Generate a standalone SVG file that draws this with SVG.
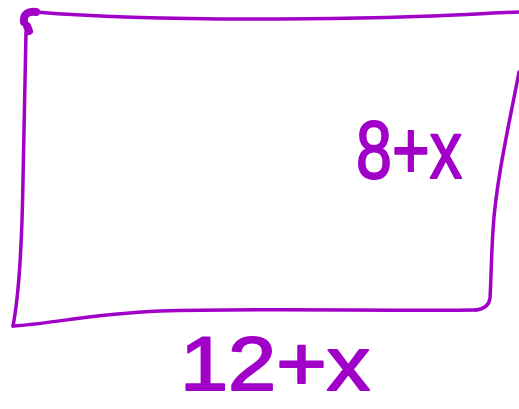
<svg xmlns="http://www.w3.org/2000/svg" width="519" height="409" viewBox="0 0 519 409">
<style>
.edge{fill:none;stroke:#a000c8;stroke-linecap:round;stroke-linejoin:round}
.lbl{font-family:"Liberation Sans",Arial,sans-serif;fill:#a000c8;stroke:#a000c8;stroke-width:2;stroke-linejoin:round}
</style>
<rect width="519" height="409" fill="#fff"/>
<g id="connectors">
<path class="edge" stroke-width="3.5" d="M36,12 C120,19 250,20 360,18 C430,17 490,13 519,12"/>
<path class="edge" stroke-width="3.5" d="M519,72 C510,120 496,180 493,230 C491,262 491,285 490,298 C489,306 484,309 476,310"/>
<path class="edge" stroke-width="3.5" d="M476,310 C380,311 250,308 160,311 C90,314 50,324 13,326"/>
<path class="edge" stroke-width="3.5" d="M13,326 C20,290 22,240 23,180 C24,120 25,70 26,32"/>
<path class="edge" stroke-width="8" d="M24,22 C23,14 28,11 36,12 M27,26 L29,31"/>
</g>
<g id="label-height"><text class="lbl" x="356" y="178" font-size="82" textLength="106" lengthAdjust="spacingAndGlyphs">8+x</text></g>
<g id="label-width"><text class="lbl" x="180" y="390" font-size="76" textLength="190" lengthAdjust="spacingAndGlyphs">12+x</text></g>
</svg>
